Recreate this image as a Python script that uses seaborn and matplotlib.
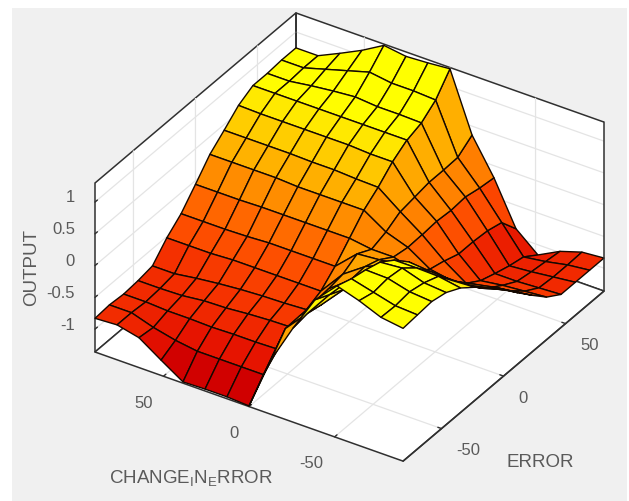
import numpy as np
import matplotlib
matplotlib.use("Agg")
import matplotlib.pyplot as plt
from matplotlib.colors import Normalize
from matplotlib.patches import Rectangle
from mpl_toolkits.mplot3d import proj3d
import seaborn as sns

# ERROR grid (first index) and CHANGE_IN_ERROR grid (second index)
error_levels = [-81.0, -69.4, -57.9, -46.3, -34.7, -23.1, -11.6, 0.0, 11.6, 23.1, 34.7, 46.3, 57.9, 69.4, 81.0]
change_levels = [-90.0, -77.1, -64.3, -51.4, -38.6, -25.7, -12.9, 0.0, 12.9, 25.7, 38.6, 51.4, 64.3, 77.1, 90.0]

# OUTPUT, one row per ERROR level
output_e00 = [.73, .78, .92, 1.03, .69, .12, -.50, -1.35, -1.33, -1.33, -1.34, -1.12, -.89, -.81, -.83]
output_e01 = [.75, .77, .86, .95, .58, .16, -.20, -1.05, -1.05, -1.05, -1.05, -1.00, -.92, -.81, -.81]
output_e02 = [.77, .80, .89, .90, .47, .11, -.19, -.84, -.85, -.85, -.86, -.85, -.85, -.83, -.83]
output_e03 = [.72, .75, .86, .83, .44, .13, -.19, -.69, -.70, -.72, -.75, -.76, -.80, -.81, -.81]
output_e04 = [.60, .66, .67, .67, .39, .11, -.15, -.60, -.62, -.63, -.65, -.68, -.72, -.77, -.77]
output_e05 = [.42, .40, .42, .45, .28, .13, -.11, -.50, -.50, -.50, -.50, -.50, -.52, -.52, -.52]
output_e06 = [.22, .14, .14, .14, .09, .05, .02, -.30, -.30, -.30, -.30, -.32, -.33, -.33, -.33]
output_e07 = [.00, -.10, -.15, -.20, -.20, -.10, -.10, -.05, -.05, -.05, -.05, -.05, -.06, -.06, -.06]
output_e08 = [-.24, -.28, -.35, -.42, -.36, -.14, -.02, .20, .20, .20, .20, .22, .22, .22, .22]
output_e09 = [-.47, -.52, -.60, -.65, -.42, -.13, .11, .37, .38, .40, .40, .41, .41, .41, .41]
output_e10 = [-.69, -.72, -.75, -.80, -.50, -.11, .15, .58, .58, .60, .60, .60, .60, .60, .61]
output_e11 = [-.84, -.86, -.88, -.88, -.50, -.13, .19, .73, .73, .73, .73, .73, .73, .73, .73]
output_e12 = [-.84, -.88, -.92, -.95, -.52, -.11, .19, .81, .82, .82, .85, .82, .78, .73, .73]
output_e13 = [-.84, -.88, -.95, -1.00, -.58, -.16, .20, .98, 1.00, 1.00, 1.05, .95, .85, .75, .75]
output_e14 = [-.84, -.87, -.98, -1.16, -.87, -.19, .36, 1.28, 1.25, 1.23, 1.28, 1.08, .91, .75, .75]

error_ticks = [-50, 0, 50]
change_ticks = [-50, 0, 50]
output_ticks = [-1, -0.5, 0, 0.5, 1]
output_labels = ["-1", "-0.5", "0", "0.5", "1"]

sns.set_theme(style="white")
plt.rcParams["font.family"] = ["Liberation Sans", "DejaVu Sans"]
plt.rcParams["mathtext.fontset"] = "custom"
plt.rcParams["mathtext.rm"] = "Liberation Sans"
plt.rcParams["axes.unicode_minus"] = False

output = np.array([output_e00, output_e01, output_e02, output_e03, output_e04,
                   output_e05, output_e06, output_e07, output_e08, output_e09,
                   output_e10, output_e11, output_e12, output_e13, output_e14])
E, C = np.meshgrid(error_levels, change_levels, indexing="ij")

W, H = 629, 502
fig = plt.figure(figsize=(W / 100, H / 100), dpi=100, facecolor="white")
fig.add_artist(Rectangle((12 / W, 0), 615 / W, 493 / H, transform=fig.transFigure,
                         facecolor="#f0f0f0", edgecolor="none", zorder=-5))

start = 400
ax = fig.add_axes([0.1, 0.1, start / W, start / H], projection="3d", proj_type="ortho")
ax.patch.set_alpha(0)
ax.view_init(elev=33.2, azim=-147.1)
ax.set_box_aspect((370, 367, 202))
ax.set_xlim(-81, 81)
ax.set_ylim(-90, 90)
ax.set_zlim(-1.36, 1.30)

cmap = sns.blend_palette(["#d00000", "#e61400", "#f53200", "#ff5500", "#ff7f00", "#ffa800", "#ffd200", "#ffff00"],
                         as_cmap=True)
norm = Normalize(-1.35, 0.75)
ax.plot_surface(E, C, output, rstride=1, cstride=1, facecolors=cmap(norm(output)),
                edgecolor="#140800", linewidth=1.0, shade=False, antialiased=True, zorder=3)

# the two box edges the panes leave out
ax.plot([81, 81], [-90, -90], [-1.36, 1.30], color="#303030", lw=1.1, zorder=2)
ax.plot([81, 81], [90, 90], [-1.36, 1.30], color="#303030", lw=1.1, zorder=1)

ax.set_xticks(error_ticks)
ax.set_yticks(change_ticks)
ax.set_zticks(output_ticks)
ax.set_zticklabels(output_labels)
ink = "#5a5a5a"
for axis in (ax.xaxis, ax.yaxis, ax.zaxis):
    axis.pane.set_facecolor("white")
    axis.pane.set_alpha(1)
    axis.pane.set_edgecolor("#303030")
    axis.pane.set_linewidth(1.1)
    axis.line.set_color("#303030")
    axis.line.set_linewidth(1.1)
    axis._axinfo["grid"].update(color="#e4e4e4", linewidth=0.9)
    axis._axinfo["tick"].update(inward_factor=0.0, outward_factor=0.15, linewidth={True: 1.0, False: 0.5})
ax.tick_params(axis="both", labelsize=12, labelcolor=ink, color="#303030")
ax.tick_params(axis="x", pad=2)
ax.tick_params(axis="y", pad=3)
ax.tick_params(axis="z", pad=0)
ax.zaxis.set_ticks_position("upper")
for label in ax.get_xticklabels():
    label.set_ha("left")
for label in ax.get_yticklabels():
    label.set_ha("right")
for label in ax.get_zticklabels():
    label.set_ha("right")
    label.set_va("bottom")


def corner(x, y, z):
    px, py, _ = proj3d.proj_transform(x, y, z, ax.get_proj())
    return ax.transData.transform((px, py))


fig.canvas.draw()
left = corner(-81, 90, -1.36)
right = corner(81, -90, -1.36)
side = start * (604 - 95) / (right[0] - left[0])
ax.set_position([0.1, 0.1, side / W, side / H])
fig.canvas.draw()
left = corner(-81, 90, -1.36)
pos = ax.get_position()
ax.set_position([pos.x0 + (95 - left[0]) / W, pos.y0 + (H - 353 - left[1]) / H, pos.width, pos.height])

fig.text(190.5 / W, 1 - 479 / H, r"CHANGE$_{\mathrm{I}}$N$_{\mathrm{E}}$RROR", fontsize=13.5, color=ink,
         ha="center", va="center")
fig.text(540.5 / W, 1 - 463 / H, "ERROR", fontsize=13.5, color=ink, ha="center", va="center")
fig.text(32 / W, 1 - 268 / H, "OUTPUT", fontsize=13.5, color=ink, ha="center", va="center", rotation=90)

fig.savefig("out.png", dpi=100, facecolor="white")
